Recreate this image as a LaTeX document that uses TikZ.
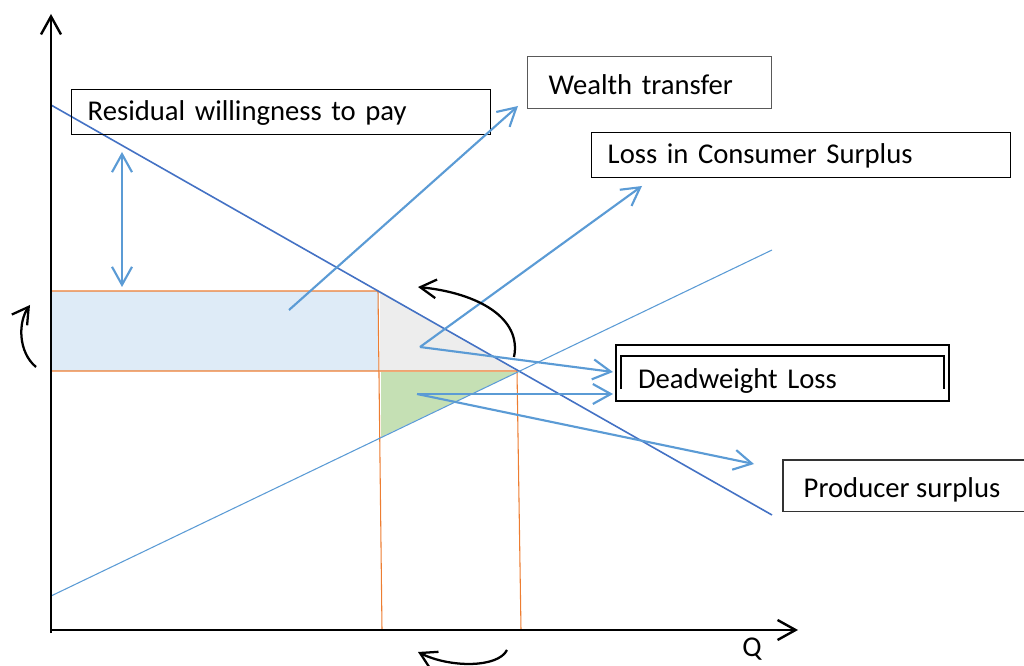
\documentclass[tikz,border=0pt]{standalone}
\usepackage{fontspec}
\setmainfont{Carlito}
\usetikzlibrary{arrows.meta}
\definecolor{lineblue}{RGB}{91,155,213}
\definecolor{demandblue}{RGB}{68,114,196}
\definecolor{surplusblue}{RGB}{222,235,247}
\definecolor{dwlgray}{RGB}{237,237,237}
\definecolor{psgreen}{RGB}{197,224,180}
\definecolor{costorange}{RGB}{237,125,49}
\tikzstyle{labelbox} = [rectangle, 
anchor=north west, 
align=left, 
text depth=0pt, 
draw=black, 
line width=1.1pt, 
font=\fontsize{21.5pt}{25pt}\selectfont]
\tikzstyle{arrow} = [lineblue,line width=1.6pt,-{Straight Barb[length=13.5pt,width=15pt]}]
\tikzstyle{twoway} = [lineblue,line width=1.6pt,{Straight Barb[length=13.5pt,width=15pt]}-{Straight Barb[length=13.5pt,width=15pt]}]
\tikzstyle{axis} = [line width=1.8pt,-{Straight Barb[length=13.5pt,width=15pt]}]
\tikzstyle{turn} = [line width=1.7pt,-{Straight Barb[length=12pt,width=14pt]}]
\tikzstyle{priceline} = [costorange, line width=0.8pt]

\begin{document}
\begin{tikzpicture}[x=0.75pt,y=-0.75pt]
\useasboundingbox (0,0) rectangle (1024,666);

% Coordinates
\coordinate (origin) at (51,630);
\coordinate (ytip) at (51,14);
\coordinate (xtip) at (798,630);
\coordinate (dtop) at (51,105);
\coordinate (dbot) at (772,515);
\coordinate (sbot) at (51,596);
\coordinate (stop) at (772,250);
\coordinate (pmaxis) at (51,291);
\coordinate (pcaxis) at (51,371);
\coordinate (pm) at (378,291);
\coordinate (eq) at (517,371);
\coordinate (qm) at (382,630);
\coordinate (qc) at (521,630);

% Areas
\fill[surplusblue] (pmaxis) rectangle (379,371);
\fill[dwlgray] (380,291) -- (eq) -- (380,371) -- cycle;
\fill[psgreen] (381,372) -- (517,372) -- (381,437) -- cycle;

% Price and quantity lines
\draw[priceline] (pmaxis) -- (pm) -- (qm);
\draw[priceline] (pcaxis) -- (eq) -- (qc);

% Demand and supply
\draw[demandblue, line width=1.2pt] (dtop) -- (dbot);
\draw[lineblue, line width=0.8pt] (sbot) -- (stop);

% Axes
\draw[axis] (51,633) -- (ytip);
\draw[axis] (origin) -- (xtip);
\node (q) [font=\fontsize{21.5pt}{25pt}\selectfont] at (752,649) {Q};

% Nodes
\node (resid) [labelbox, minimum width=314.25pt, minimum height=33.75pt, inner xsep=12pt, text width=290.25pt, text height=12pt] at (71,89) {Residual willingness to pay};
\node (wealth) [labelbox, draw=black!65, line width=0.8pt, minimum width=183pt, minimum height=39pt, inner xsep=15.75pt, text width=151.5pt, text height=18pt] at (527,56) {Wealth transfer};
\node (losscs) [labelbox, minimum width=314.25pt, minimum height=33.75pt, inner xsep=12pt, text width=290.25pt, text height=12.75pt] at (591,132) {Loss in Consumer Surplus};
\node (dwl) [labelbox, line width=1.6pt, minimum width=249.75pt, minimum height=42pt, inner xsep=16.5pt, text width=216.75pt, text height=22.5pt] at (615,344) {Deadweight Loss};
\draw[line width=1.1pt] ([shift={(6,45)}]dwl.north west) -- ([shift={(6,12)}]dwl.north west) -- ([shift={(-6,12)}]dwl.north east) -- ([shift={(-6,45)}]dwl.north east);
\node (producer) [labelbox, draw=none, minimum height=37.5pt, inner xsep=15pt, text height=18pt] at (783,460) {Producer surplus};
\draw[black!80, line width=0.8pt] (producer.north west) ++(241,0) -- (producer.north west) -- (producer.south west) -- ++(241,0);

% Arrows
\coordinate (rwtop) at (122,152);
\coordinate (rwbot) at (122,287);
\coordinate (wtstart) at (289,310);
\coordinate (wttip) at (518,106);
\coordinate (csstart) at (420,347);
\coordinate (cstip) at (642,186);
\coordinate (dwltop) at (613,372);
\coordinate (psstart) at (417,394);
\coordinate (dwlbot) at (613,394);
\coordinate (pstip) at (754,464);
\draw [twoway] (rwtop) -- (rwbot);
\draw [arrow] (wtstart) -- (wttip);
\draw [arrow] (csstart) -- (cstip);
\draw [arrow] (csstart) -- (dwltop);
\draw [arrow] (psstart) -- (dwlbot);
\draw [arrow] (psstart) -- (pstip);

% Turning arrows
\coordinate (topfrom) at (514,357);
\coordinate (topto) at (418,287);
\coordinate (leftfrom) at (36,367);
\coordinate (leftto) at (30,305);
\coordinate (botfrom) at (507,650);
\coordinate (botto) at (418,652);
\draw [turn] (topfrom) .. controls (522,318) and (478,293) .. (topto);
\draw [turn] (leftfrom) .. controls (18,352) and (18,322) .. (leftto);
\draw [turn] (botfrom) .. controls (498,668) and (450,668) .. (botto);

\end{tikzpicture}
\end{document}
